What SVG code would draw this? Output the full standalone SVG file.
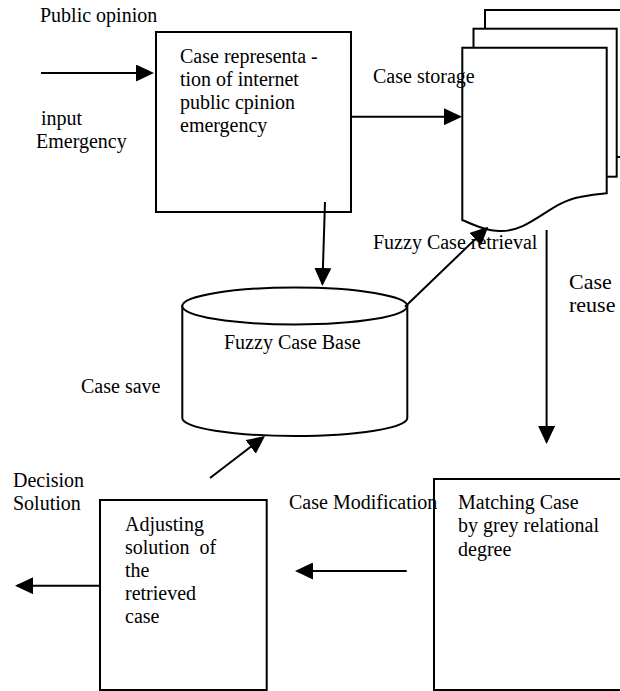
<svg xmlns="http://www.w3.org/2000/svg" width="620" height="691" viewBox="0 0 620 691">
<style>
  text { font-family: "Liberation Serif", "Times New Roman", serif; font-size: 20px; fill: #000; white-space: pre; }
  .box { fill: #fff; stroke: #000; stroke-width: 2; }
  .conn { fill: none; stroke: #000; stroke-width: 2; }
</style>
<defs>
  <marker id="ah" viewBox="0 0 18 17" refX="16" refY="8.5" markerWidth="18" markerHeight="17" markerUnits="userSpaceOnUse" orient="auto">
    <path d="M0,0 L18,8.5 L0,17 Z" fill="#000"/>
  </marker>
</defs>
<rect width="620" height="691" fill="#fff"/>

<g id="node-representation">
  <rect class="box" x="156" y="32" width="195" height="180"/>
  <text x="180" y="63">Case representa -</text>
  <text x="180" y="86">tion of internet</text>
  <text x="180" y="109">public cpinion</text>
  <text x="180" y="132">emergency</text>
</g>

<g id="node-storage">
  <rect class="box" x="485" y="10" width="160" height="147"/>
  <rect class="box" x="473.5" y="28.7" width="143.2" height="148"/>
  <path class="box" d="M462.3,47.7 L606.7,47.7 L606.7,193.3 C598,194 590,195 580,197 C550,202 530,232 500,231 C488,231 476,226 462.3,220 Z"/>
</g>

<g id="node-casebase">
  <path class="box" d="M182.3,306 L182.3,418 A112.5,18 0 0 0 407.3,418 L407.3,306 Z"/>
  <ellipse class="box" cx="294.8" cy="306" rx="112.5" ry="18.5"/>
  <text x="224" y="349">Fuzzy Case Base</text>
</g>

<g id="node-adjusting">
  <rect class="box" x="100" y="500" width="166.7" height="190"/>
  <text x="125" y="531">Adjusting</text>
  <text x="125" y="554">solution  of</text>
  <text x="125" y="577">the</text>
  <text x="125" y="600">retrieved</text>
  <text x="125" y="623">case</text>
</g>

<g id="node-matching">
  <rect class="box" x="434" y="479" width="210" height="211"/>
  <text x="458" y="509">Matching Case</text>
  <text x="458" y="532">by grey relational</text>
  <text x="458" y="556">degree</text>
</g>

<g id="connectors">
  <line class="conn" x1="41" y1="73" x2="152" y2="73" marker-end="url(#ah)"/>
  <line class="conn" x1="351" y1="116.7" x2="460" y2="116.7" marker-end="url(#ah)"/>
  <line class="conn" x1="325" y1="202" x2="322.4" y2="284" marker-end="url(#ah)"/>
  <line class="conn" x1="405" y1="306.7" x2="486.8" y2="228.1" marker-end="url(#ah)"/>
  <line class="conn" x1="546.6" y1="230" x2="546.6" y2="442" marker-end="url(#ah)"/>
  <line class="conn" x1="406.7" y1="571" x2="297" y2="571" marker-end="url(#ah)"/>
  <line class="conn" x1="210" y1="478" x2="263.4" y2="437.2" marker-end="url(#ah)"/>
  <line class="conn" x1="100" y1="585.7" x2="17" y2="585.7" marker-end="url(#ah)"/>
</g>

<g id="labels">
  <text x="40" y="22">Public opinion</text>
  <text x="41" y="125">input</text>
  <text x="36" y="148">Emergency</text>
  <text x="373" y="83">Case storage</text>
  <text x="373" y="249">Fuzzy Case retrieval</text>
  <text x="569" y="289" style="font-size:22px">Case</text>
  <text x="569" y="312" style="font-size:22px">reuse</text>
  <text x="81" y="393">Case save</text>
  <text x="13" y="487">Decision</text>
  <text x="13" y="510">Solution</text>
  <text x="289" y="509">Case Modification</text>
</g>
</svg>
